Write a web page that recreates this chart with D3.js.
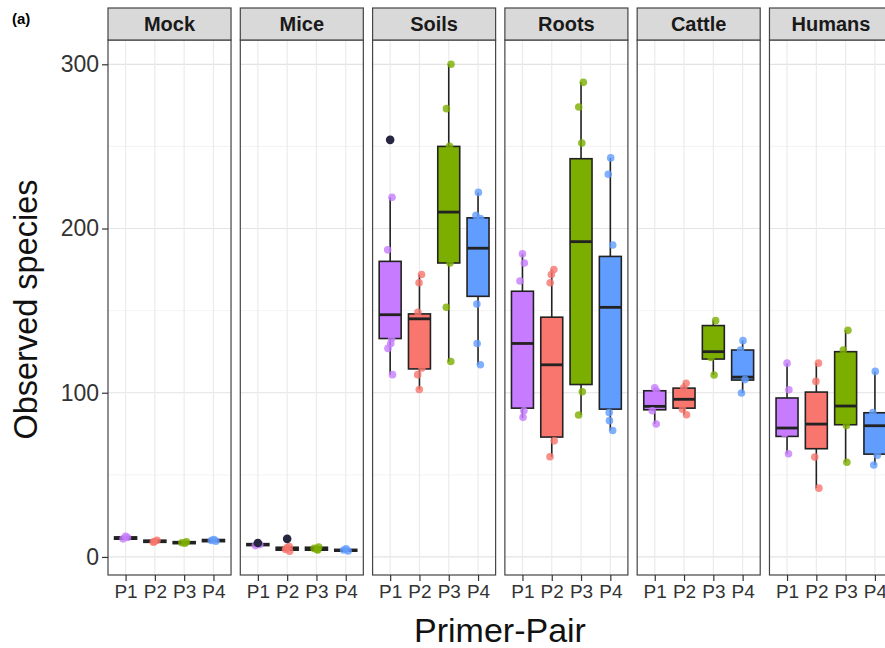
<!DOCTYPE html>
<html>
<head>
<meta charset="utf-8">
<script src="https://cdn.jsdelivr.net/npm/d3@7"></script>
<style>
  body { margin: 0; background: #fff; }
  text { font-family: "Liberation Sans", Arial, sans-serif; }
</style>
</head>
<body>
<div id="chart"></div>
<script>
const width = 885, height = 648;

// facets and primer pairs
const groups = ['Mock', 'Mice', 'Soils', 'Roots', 'Cattle', 'Humans'];
const primers = ['P1', 'P2', 'P3', 'P4'];
const colors = ['#C77CFF', '#F8766D', '#7CAE00', '#619CFF'];
const yTicks = [0, 100, 200, 300];
const yMinor = [50, 150, 250];

// box stats, one row per group, one value per primer
const whiskerLo = [
  [11, 9, 8, 9.3], [7, 3, 4, 3.3], [111, 102, 119, 117],
  [84.6, 61, 86.4, 77], [81, 86.6, 110.8, 99.8], [62.8, 41.9, 57.7, 56]
];
const q1 = [
  [10.8, 8.9, 8.1, 9.3], [6.9, 4.1, 4.1, 3.5], [133, 114.5, 179, 158.7],
  [90.6, 73, 105, 90], [89.6, 90.6, 120.5, 107.7], [73.4, 65.9, 80.5, 62.6]
];
const medians = [
  [11.5, 9.5, 8.7, 10], [7.5, 5, 5, 4], [147.5, 145, 210, 188],
  [130, 117, 192, 152], [91.7, 96, 125, 109.5], [78.5, 80.9, 91.9, 79.9]
];
const q3 = [
  [12.2, 10.2, 9.3, 10.6], [8.1, 5.9, 5.9, 4.6], [180, 148, 250, 206.5],
  [161.8, 146, 242.5, 183], [101.2, 102.8, 140.9, 126], [96.8, 100.4, 125, 87.8]
];
const whiskerHi = [
  [12.5, 10.5, 9.5, 10.8], [8.2, 6.5, 6, 5], [219, 172, 300, 222],
  [184.6, 175, 289, 243], [103, 105.7, 143.9, 131.7], [118, 118, 138, 113]
];
const outliers = [
  [[], [], [], []], [[8.5], [11], [], []], [[254], [], [], []],
  [[], [], [], []], [[], [], [], []], [[], [], [], []]
];
// individual samples (jittered points)
const samples = [
  [[12.5, 11.8, 11], [10.2, 9.4, 9], [9.2, 8.6, 8.3], [10.6, 10, 9.6]],
  [[8.4, 7.5, 6.9], [6.4, 5.5, 4.5, 3.4], [6, 5.2, 4.6, 4.2], [4.9, 4.2, 3.6]],
  [[254, 219, 187, 133, 130, 127, 111], [172, 167, 149, 115, 111, 102],
   [300, 273, 250, 179, 152, 119], [222, 208, 206, 154, 130, 117]],
  [[184.6, 179, 168, 89, 85], [175, 172, 167, 70.7, 61],
   [289, 274, 252, 100.6, 86.4], [243, 233, 190, 88, 83, 77]],
  [[103, 101, 89, 81], [105.7, 103, 90, 86.6],
   [143.9, 121.5, 110.8], [131.7, 126, 108, 99.8]],
  [[118, 101.8, 75, 62.8], [118, 106.9, 60.8, 41.9],
   [138, 126, 80, 57.7], [113, 88, 62, 56]]
];

const padTop = 8, stripH = 32, bottom = 575;

const svg = d3.select('#chart').append('svg')
  .attr('width', width).attr('height', height);

const fx = d3.scaleBand().domain(groups).range([108, 892.5]).paddingInner(0.07);
const x = d3.scalePoint().domain(primers).range([0, fx.bandwidth()]).padding(0.6);
const y = d3.scaleLinear().domain([-11, 314.8]).range([bottom, padTop + stripH]);
const boxW = x.step() * 0.75;

svg.append('text').attr('x', 12).attr('y', 24)
  .attr('font-size', 15).attr('font-weight', 'bold').text('(a)');

groups.forEach((g, gi) => {
  const p = svg.append('g').attr('transform', `translate(${fx(g)},0)`);
  const pw = fx.bandwidth();

  // grid
  p.selectAll('.minor').data(yMinor).join('line')
    .attr('x1', 0).attr('x2', pw).attr('y1', d => y(d)).attr('y2', d => y(d))
    .attr('stroke', '#f0f0f0').attr('stroke-width', 0.8);
  p.selectAll('.major').data(yTicks).join('line')
    .attr('x1', 0).attr('x2', pw).attr('y1', d => y(d)).attr('y2', d => y(d))
    .attr('stroke', '#e3e3e3').attr('stroke-width', 1.2);
  p.selectAll('.vgrid').data(primers).join('line')
    .attr('x1', d => x(d)).attr('x2', d => x(d))
    .attr('y1', padTop + stripH).attr('y2', bottom)
    .attr('stroke', '#ebebeb').attr('stroke-width', 1.2);

  primers.forEach((pr, i) => {
    const cx = x(pr);
    const col = colors[i];
    // whisker
    p.append('line').attr('x1', cx).attr('x2', cx)
      .attr('y1', y(whiskerLo[gi][i])).attr('y2', y(whiskerHi[gi][i]))
      .attr('stroke', '#222').attr('stroke-width', 1.6);
    // box
    p.append('rect').attr('x', cx - boxW / 2).attr('width', boxW)
      .attr('y', y(q3[gi][i])).attr('height', Math.max(1, y(q1[gi][i]) - y(q3[gi][i])))
      .attr('fill', col).attr('stroke', '#222').attr('stroke-width', 1.6);
    p.append('line').attr('x1', cx - boxW / 2).attr('x2', cx + boxW / 2)
      .attr('y1', y(medians[gi][i])).attr('y2', y(medians[gi][i]))
      .attr('stroke', '#222').attr('stroke-width', 2.8);
    // jittered samples (deterministic small offsets)
    p.selectAll(null).data(samples[gi][i]).join('circle')
      .attr('cx', (d, k) => cx + Math.sin(k * 2.3 + i) * 2.5)
      .attr('cy', d => y(d)).attr('r', 3.8)
      .attr('fill', col).attr('fill-opacity', 0.8);
    // outliers on top
    p.selectAll(null).data(outliers[gi][i]).join('circle')
      .attr('cx', cx).attr('cy', d => y(d)).attr('r', 4.3)
      .attr('fill', '#262640');
  });

  // border
  p.append('rect').attr('x', 0).attr('y', padTop + stripH).attr('width', pw)
    .attr('height', bottom - padTop - stripH)
    .attr('fill', 'none').attr('stroke', '#444').attr('stroke-width', 1.2);
  // strip
  p.append('rect').attr('x', 0).attr('y', padTop).attr('width', pw).attr('height', stripH)
    .attr('fill', '#d9d9d9').attr('stroke', '#444').attr('stroke-width', 1.2);
  p.append('text').attr('x', pw / 2).attr('y', padTop + stripH / 2 + 7)
    .attr('text-anchor', 'middle').attr('font-size', 20).attr('font-weight', 'bold')
    .attr('fill', '#1a1a1a').text(g);

  // x axis
  const xa = p.append('g').attr('transform', `translate(0,${bottom})`)
    .call(d3.axisBottom(x).tickSize(6).tickPadding(4));
  xa.select('.domain').remove();
  xa.selectAll('line').attr('stroke', '#333').attr('stroke-width', 1.2);
  xa.selectAll('text').attr('font-size', 19).attr('fill', '#333')
    .attr('font-family', '"Liberation Sans", Arial, sans-serif');
});

// y axis
const ya = svg.append('g').attr('transform', `translate(${fx(groups[0])},0)`)
  .call(d3.axisLeft(y).tickValues(yTicks).tickSize(6).tickPadding(3));
ya.select('.domain').remove();
ya.selectAll('line').attr('stroke', '#333').attr('stroke-width', 1.2);
ya.selectAll('text').attr('font-size', 23).attr('fill', '#333')
  .attr('font-family', '"Liberation Sans", Arial, sans-serif');

svg.append('text').attr('transform', `translate(37,${(padTop + stripH + bottom) / 2 + 2}) rotate(-90)`)
  .attr('text-anchor', 'middle').attr('font-size', 32.5).attr('fill', '#111')
  .text('Observed species');
svg.append('text').attr('x', 500).attr('y', 642)
  .attr('text-anchor', 'middle').attr('font-size', 34).attr('fill', '#111')
  .text('Primer-Pair');
</script>
</body>
</html>
